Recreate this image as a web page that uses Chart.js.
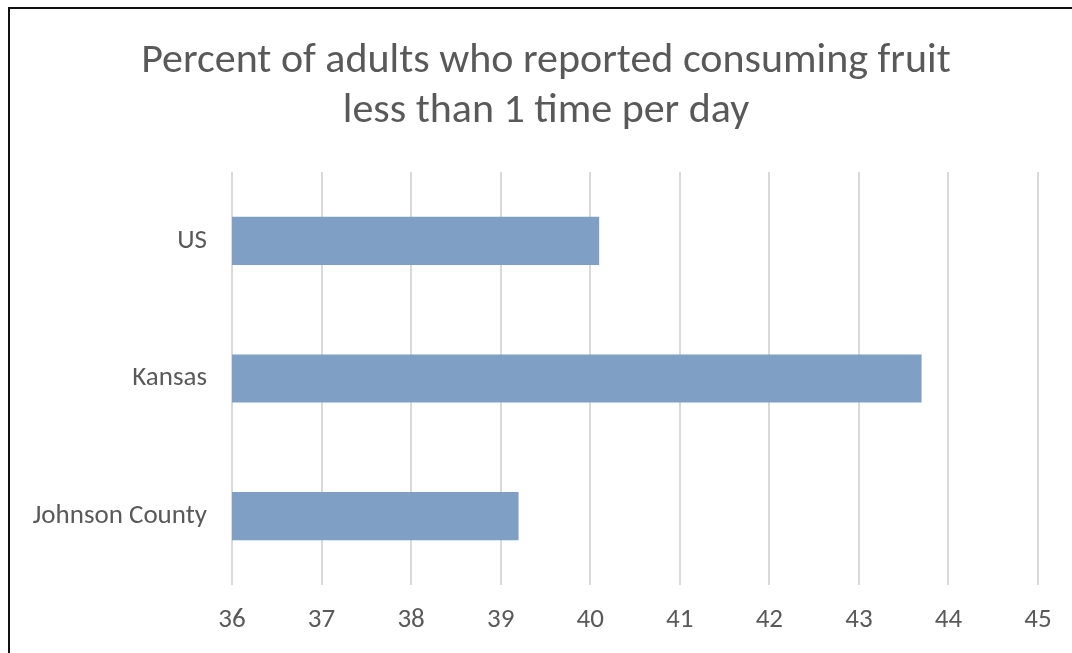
<!DOCTYPE html>
<html>
<head>
<meta charset="utf-8">
<script src="https://cdn.jsdelivr.net/npm/chart.js@4.4.1/dist/chart.umd.min.js"></script>
<style>
    html, body { margin: 0; padding: 0; background: #fff; }
    #wrap { position: relative; width: 1072px; height: 653px; overflow: hidden; }
    #frame { position: absolute; left: 8px; top: 7px; width: 1100px; height: 700px;
             border-top: 2px solid #111; border-left: 2px solid #111; }
    canvas { position: absolute; left: 0; top: 0; }
</style>
</head>
<body>
<div id="wrap">
    <div id="frame"></div>
    <canvas id="bigChart" width="1072" height="653"></canvas>
</div>
<script>
var categories = ["US", "Kansas", "Johnson County"];
var percentValues = [40.1, 43.7, 39.2];
var tickMin = 36;
var tickMax = 45;
var titleLines = ["Percent of adults who reported consuming fruit", "less than 1 time per day"];

document.addEventListener("DOMContentLoaded", function () {
    var fontFamily = "Carlito, 'Open Sans', sans-serif";
    var textColor = "#595959";
    var ctx = document.getElementById("bigChart").getContext("2d");

    new Chart(ctx, {
        type: 'bar',
        data: {
            labels: categories,
            datasets: [{
                data: percentValues,
                backgroundColor: '#7f9fc4',
                borderWidth: 0,
                barPercentage: 0.35,
                categoryPercentage: 1.0,
            }],
        },
        options: {
            indexAxis: 'y',
            responsive: false,
            animation: false,
            layout: {
                padding: { left: 20, right: 0, top: 0, bottom: 0 }
            },
            plugins: {
                legend: { display: false },
                tooltip: { enabled: false },
                title: {
                    display: true,
                    text: titleLines,
                    color: textColor,
                    font: { family: fontFamily, size: 42, weight: 'normal', lineHeight: 1.19 },
                    padding: { top: 37, bottom: 35 }
                }
            },
            scales: {
                x: {
                    min: tickMin,
                    max: tickMax,
                    ticks: {
                        stepSize: 1,
                        color: textColor,
                        font: { family: fontFamily, size: 27 },
                        padding: 19
                    },
                    grid: { color: '#d9d9d9', lineWidth: 2, drawTicks: false },
                    border: { display: false },
                    afterFit: function (scale) { scale.height = 68; }
                },
                y: {
                    ticks: {
                        color: textColor,
                        font: { family: fontFamily, size: 27 },
                        padding: 25
                    },
                    grid: { display: false, drawTicks: false },
                    border: { display: false },
                    afterFit: function (scale) { scale.width = 212; }
                },
                // empty spacer on the right so the plot ends before the edge
                // while the title stays centred on the whole picture
                spacer: {
                    type: 'category',
                    position: 'right',
                    ticks: { display: false },
                    grid: { display: false, drawTicks: false },
                    border: { display: false },
                    afterFit: function (scale) { scale.width = 34; }
                }
            }
        }
    });
});
</script>
</body>
</html>
